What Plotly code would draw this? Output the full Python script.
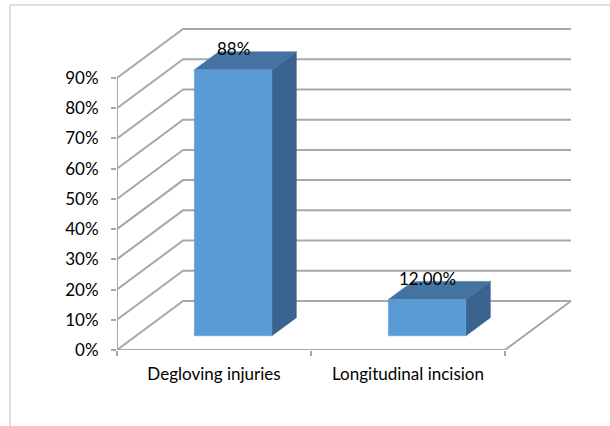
import plotly.graph_objects as go

# ---- data ----
categories = ["Degloving injuries", "Longitudinal incision"]
values = [88, 12]
value_labels = ["88%", "12.00%"]
tick_values = [0, 10, 20, 30, 40, 50, 60, 70, 80, 90]
tick_labels = ["0%", "10%", "20%", "30%", "40%", "50%", "60%", "70%", "80%", "90%"]

# ---- 3D projection parameters (in axis units) ----
W, H = 610, 426
ML, MR, MT, MB = 117, 30, 20, 76
PX_PER_PCT = 272 / 90.0          # vertical pixels per percent
PX_PER_CAT = 194.0               # horizontal pixels per category
plot_w = W - ML - MR
plot_h = H - MT - MB
x_range = [-0.5, -0.5 + plot_w / PX_PER_CAT]
y_range = [0, plot_h / PX_PER_PCT]

DEPTH_DX = 66 / PX_PER_CAT       # full depth shift right
DEPTH_DY = 49 / PX_PER_PCT       # full depth shift up
BAR_D0, BAR_D1 = 0.29, 0.66      # bar depth span (fraction of depth)
BAR_HALF = 0.20                  # half width of bar in category units

GRID = "#A8A8A8"
FRONT = "#5B9BD5"
TOP = "#4473A2"
SIDE = "#3A6390"
FONT = "Lato, 'Open Sans', sans-serif"

fig = go.Figure()

def line(xs, ys, color=GRID, width=2):
    fig.add_trace(go.Scatter(x=xs, y=ys, mode="lines",
                             line=dict(color=color, width=width),
                             hoverinfo="skip", showlegend=False))

x0, x1 = -0.5, len(categories) - 0.5
# walls gridlines
for v in tick_values:
    line([x0, x0 + DEPTH_DX, x1 + DEPTH_DX],
         [v, v + DEPTH_DY, v + DEPTH_DY])
# floor
line([x0, x1, x1 + DEPTH_DX], [0, 0, DEPTH_DY])
# front vertical axis
line([x0, x0], [0, tick_values[-1]])

def poly(xs, ys, color):
    fig.add_trace(go.Scatter(x=xs + [xs[0]], y=ys + [ys[0]], mode="lines",
                             fill="toself", fillcolor=color,
                             line=dict(color=color, width=0.5),
                             hoverinfo="skip", showlegend=False))

for i, v in enumerate(values):
    fx = i + BAR_D0 * DEPTH_DX
    fy = BAR_D0 * DEPTH_DY
    bx = i + BAR_D1 * DEPTH_DX
    by = BAR_D1 * DEPTH_DY
    l, r = -BAR_HALF, BAR_HALF
    # side face
    poly([fx + r, bx + r, bx + r, fx + r], [fy, by, by + v, fy + v], SIDE)
    # top face
    poly([fx + l, fx + r, bx + r, bx + l], [fy + v, fy + v, by + v, by + v], TOP)
    # front face
    poly([fx + l, fx + r, fx + r, fx + l], [fy, fy, fy + v, fy + v], FRONT)
    fig.add_annotation(x=fx, y=by + v,
                       text=value_labels[i], showarrow=False,
                       font=dict(size=17, color="#000000", family=FONT),
                       yanchor="middle", yshift=3)

fig.update_layout(
    width=W, height=H,
    margin=dict(l=ML, r=MR, t=MT, b=MB),
    paper_bgcolor="white", plot_bgcolor="white",
    font=dict(family=FONT, size=17, color="#000000"),
    xaxis=dict(range=x_range, showgrid=False, zeroline=False, showline=False,
               tickvals=list(range(len(categories))), ticktext=categories,
               ticks="", ticklabelstandoff=12,
               minor=dict(tickvals=[x0 + k for k in range(len(categories) + 1)],
                          ticks="outside", ticklen=5, tickcolor=GRID,
                          tickwidth=2, showgrid=False),
               fixedrange=True),
    yaxis=dict(range=y_range, showgrid=False, zeroline=False, showline=False,
               tickvals=tick_values, ticktext=tick_labels,
               ticks="outside", ticklen=5, tickcolor=GRID, tickwidth=2,
               ticklabelstandoff=9, fixedrange=True),
    shapes=[
        dict(type="line", xref="paper", yref="paper",
             x0=(10 - ML) / plot_w, x1=(W - ML) / plot_w,
             y0=(H - MB - 5) / plot_h, y1=(H - MB - 5) / plot_h,
             line=dict(color="#BFBFBF", width=1)),
        dict(type="line", xref="paper", yref="paper",
             x0=(10 - ML) / plot_w, x1=(10 - ML) / plot_w,
             y0=(H - MB - 5) / plot_h, y1=-MB / plot_h,
             line=dict(color="#BFBFBF", width=1)),
    ],
)

fig.write_html("out.html")
